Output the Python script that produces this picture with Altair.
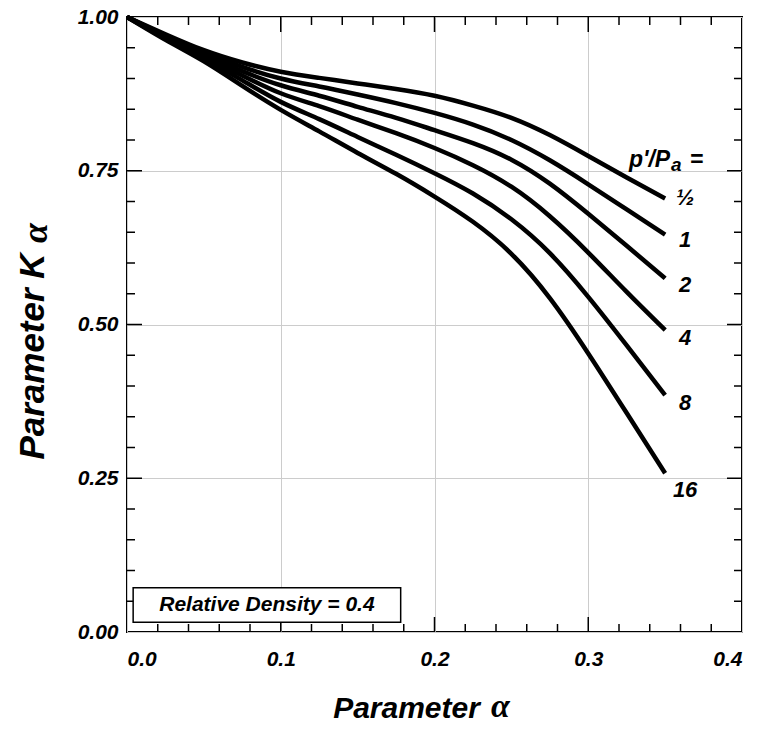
import altair as alt
import pandas as pd

# ---- data ----
alpha = [0.0, 0.025, 0.05, 0.075, 0.1, 0.125, 0.15, 0.175, 0.2, 0.225, 0.25, 0.275, 0.3, 0.325, 0.35]
pressures = ["½", "1", "2", "4", "8", "16"]
k_half = [1.0, 0.972, 0.946, 0.926, 0.911, 0.901, 0.892, 0.883, 0.872, 0.856, 0.836, 0.808, 0.774, 0.739, 0.705]
k_1 = [1.0, 0.970, 0.943, 0.919, 0.900, 0.887, 0.874, 0.860, 0.844, 0.825, 0.800, 0.767, 0.728, 0.687, 0.646]
k_2 = [1.0, 0.968, 0.939, 0.912, 0.889, 0.872, 0.854, 0.836, 0.816, 0.795, 0.768, 0.729, 0.680, 0.628, 0.575]
k_4 = [1.0, 0.967, 0.936, 0.905, 0.876, 0.855, 0.833, 0.811, 0.787, 0.759, 0.724, 0.676, 0.617, 0.553, 0.491]
k_8 = [1.0, 0.965, 0.932, 0.897, 0.862, 0.834, 0.805, 0.776, 0.746, 0.713, 0.671, 0.616, 0.545, 0.466, 0.385]
k_16 = [1.0, 0.963, 0.928, 0.888, 0.849, 0.814, 0.779, 0.745, 0.708, 0.667, 0.615, 0.543, 0.453, 0.356, 0.258]
series = [k_half, k_1, k_2, k_4, k_8, k_16]

label_alpha = [0.363] * 6
label_k = [0.706, 0.637, 0.564, 0.478, 0.372, 0.231]

x_tick_labels = [0.0, 0.1, 0.2, 0.3, 0.4]
y_tick_labels = [0.0, 0.25, 0.5, 0.75, 1.0]
x_minor = [0.02, 0.04, 0.06, 0.08, 0.12, 0.14, 0.16, 0.18, 0.22, 0.24, 0.26, 0.28, 0.32, 0.34, 0.36, 0.38]
x_major = [0.1, 0.2, 0.3]
y_minor = [0.05, 0.1, 0.15, 0.2, 0.3, 0.35, 0.4, 0.45, 0.55, 0.6, 0.65, 0.7, 0.8, 0.85, 0.9, 0.95]
y_major = [0.25, 0.5, 0.75]

box_text = "Relative Density = 0.4"
box_alpha = [0.004, 0.178]
box_k = [0.016, 0.072]

FONT = "Liberation Sans"
GREEK = "Liberation Serif"
W = H = 615
MAJ, MIN = 15, 8

rows = []
for p, ks in zip(pressures, series):
    for a, k in zip(alpha, ks):
        rows.append({"alpha": a, "K": k, "p": p})
curves = pd.DataFrame(rows)
labels = pd.DataFrame({"alpha": label_alpha, "K": label_k, "p": pressures})

xs = alt.Scale(domain=[0, 0.4], nice=False, zero=False)
ys = alt.Scale(domain=[0, 1], nice=False, zero=False)

x_axis = alt.Axis(
    values=x_tick_labels, format=".1f", title="Parameter",
    labelFont=FONT, labelFontSize=21, labelFontWeight="bold", labelFontStyle="italic",
    labelColor="black", labelPadding=16,
    titleFont=FONT, titleFontSize=30, titleFontWeight="bold", titleFontStyle="italic",
    titleColor="black", titleX=279, titleY=85, titleBaseline="alphabetic",
    grid=True, gridColor="#cccccc", gridWidth=1, ticks=False, domain=False,
)
y_axis = alt.Axis(
    values=y_tick_labels, format=".2f", title="Parameter K",
    labelFont=FONT, labelFontSize=21, labelFontWeight="bold", labelFontStyle="italic",
    labelColor="black", labelPadding=9,
    titleFont=FONT, titleFontSize=35, titleFontWeight="bold", titleFontStyle="italic",
    titleColor="black", titleAngle=270, titleX=-84, titleY=339,
    titleBaseline="alphabetic", titleAlign="center",
    grid=True, gridColor="#cccccc", gridWidth=1, ticks=False, domain=False,
)

X = alt.X("alpha:Q", scale=xs, axis=x_axis)
Y = alt.Y("K:Q", scale=ys, axis=y_axis)

lines = alt.Chart(curves).mark_line(
    color="black", strokeWidth=4.5, strokeJoin="round", interpolate="natural"
).encode(x=X, y=Y, detail="p:N")

curve_labels = alt.Chart(labels).mark_text(
    font=FONT, fontSize=22, fontWeight="bold", fontStyle="italic", color="black",
    align="center", baseline="middle"
).encode(x=X, y=Y, text="p:N")

# p'/Pa = heading
head_main = pd.DataFrame({"alpha": [0.3533], "K": [0.7566], "t": ["p'/P"]})
head_sub = pd.DataFrame({"alpha": [0.3539], "K": [0.7500], "t": ["a"]})
head_eq = pd.DataFrame({"alpha": [0.3660], "K": [0.7566], "t": ["="]})
hstyle = dict(font=FONT, fontWeight="bold", fontStyle="italic", color="black", baseline="alphabetic")
h1 = alt.Chart(head_main).mark_text(fontSize=23, align="right", **hstyle).encode(x=X, y=Y, text="t:N")
h2 = alt.Chart(head_sub).mark_text(fontSize=19, align="left", **hstyle).encode(x=X, y=Y, text="t:N")
h3 = alt.Chart(head_eq).mark_text(fontSize=23, align="left", **hstyle).encode(x=X, y=Y, text="t:N")

# Greek alpha of the axis titles (serif italic, subscript on the y title)
greek_x = alt.Chart(pd.DataFrame({"t": ["α"]})).mark_text(
    font=GREEK, fontSize=34, fontStyle="italic", fontWeight="bold", color="black",
    align="left", baseline="alphabetic"
).encode(x=alt.value(364), y=alt.value(700), text="t:N")
greek_y = alt.Chart(pd.DataFrame({"t": ["α"]})).mark_text(
    font=GREEK, fontSize=36, fontStyle="italic", fontWeight="bold", color="black",
    align="center", baseline="alphabetic", angle=270
).encode(x=alt.value(-80), y=alt.value(216), text="t:N")

# annotation box
box_df = pd.DataFrame({"alpha": [box_alpha[0]], "alpha2": [box_alpha[1]], "K": [box_k[0]], "K2": [box_k[1]]})
box = alt.Chart(box_df).mark_rect(fill="white", stroke="black", strokeWidth=1.5).encode(
    x=X, x2="alpha2:Q", y=Y, y2="K2:Q"
)
box_txt_df = pd.DataFrame({"alpha": [(box_alpha[0] + box_alpha[1]) / 2], "K": [(box_k[0] + box_k[1]) / 2], "t": [box_text]})
box_txt = alt.Chart(box_txt_df).mark_text(
    font=FONT, fontSize=21, fontWeight="bold", fontStyle="italic", color="black",
    align="center", baseline="middle"
).encode(x=X, y=Y, text="t:N")

# inward ticks on all four sides
def xticks(vals, length):
    d = pd.DataFrame({"alpha": vals})
    top = alt.Chart(d).mark_rule(color="black", strokeWidth=1.5).encode(x=X, y=alt.value(0), y2=alt.value(length))
    bot = alt.Chart(d).mark_rule(color="black", strokeWidth=1.5).encode(x=X, y=alt.value(H), y2=alt.value(H - length))
    return [top, bot]

def yticks(vals, length):
    d = pd.DataFrame({"K": vals})
    left = alt.Chart(d).mark_rule(color="black", strokeWidth=1.5).encode(y=Y, x=alt.value(0), x2=alt.value(length))
    right = alt.Chart(d).mark_rule(color="black", strokeWidth=1.5).encode(y=Y, x=alt.value(W), x2=alt.value(W - length))
    return [left, right]

tick_layers = xticks(x_minor, MIN) + xticks(x_major, MAJ) + yticks(y_minor, MIN) + yticks(y_major, MAJ)

chart = alt.layer(
    lines, *tick_layers, box, box_txt, curve_labels, h1, h2, h3, greek_x, greek_y
).properties(
    width=W, height=H,
    autosize=alt.AutoSizeParams(type="none"),
    padding={"left": 127, "top": 17, "right": 22, "bottom": 97},
    background="white",
).configure_view(
    stroke="black", strokeWidth=2
)

chart.save("out.html", embed_options={"renderer": "svg", "actions": False})
